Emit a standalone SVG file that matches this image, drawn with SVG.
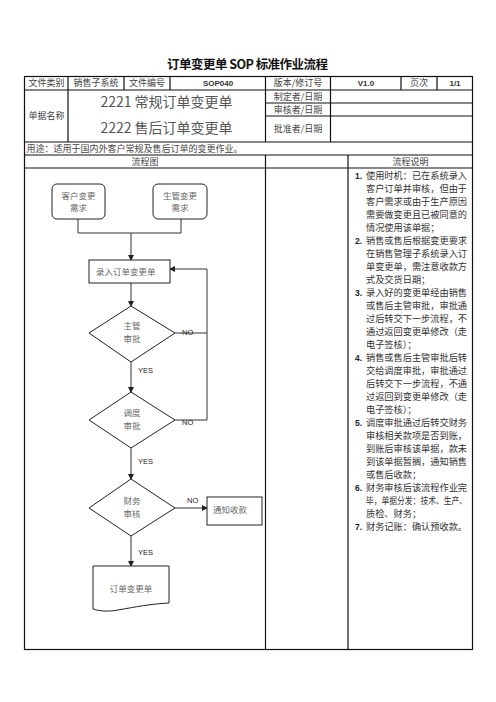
<svg xmlns="http://www.w3.org/2000/svg" width="496" height="702" viewBox="0 0 496 702">
<style>
.cj{font-family:"Noto Sans CJK SC","Noto Sans",sans-serif}
.t{font-size:9px;fill:#444;text-anchor:middle}
.lat{font-family:"Liberation Sans",Arial,sans-serif;font-size:8px;font-weight:bold;fill:#333;text-anchor:middle}
.big{font-size:14px;fill:#555;text-anchor:middle}
.fl{font-size:8.5px;fill:#666;text-anchor:middle}
.lb{font-family:"Liberation Sans",Arial,sans-serif;font-size:7.5px;fill:#222}
.li{font-size:9.2px;fill:#333}
.num{font-family:"Liberation Sans",Arial,sans-serif;font-size:8.5px;font-weight:bold;fill:#222}
.tb{fill:none;stroke:#111;stroke-width:1.2}
.nd{fill:#fff;stroke:#222;stroke-width:1}
.cn{fill:none;stroke:#333;stroke-width:1}
</style>
<defs>
<marker id="ah" markerUnits="userSpaceOnUse" markerWidth="6" markerHeight="6" refX="5" refY="3" orient="auto">
<path d="M0,0 L6,3 L0,6 Z" fill="#222"/>
</marker>
</defs>
<rect width="496" height="702" fill="#fff"/>
<text class="cj" x="247.5" y="68.5" font-size="12.5" fill="#111" text-anchor="middle" font-weight="bold" textLength="161">订单变更单 SOP 标准作业流程</text>

<g id="table">
<rect class="tb" x="24.5" y="76.5" width="448" height="573"/>
<path class="tb" d="M24.5 90H472.5M265.5 103H472.5M265.5 116H472.5M24.5 142H472.5M24.5 155H472.5M24.5 168H472.5"/>
<path class="tb" d="M68 76.5V142M124 76.5V90M170 76.5V90M265.5 76.5V142M330.5 76.5V142M401 76.5V90M437 76.5V90M265.5 155V649.5M348 155V649.5"/>
<text class="cj t" x="46.5" y="86.4">文件类别</text>
<text class="cj t" x="96" y="86.4">销售子系统</text>
<text class="cj t" x="147" y="86.4">文件编号</text>
<text class="lat" x="218" y="86.2">SOP040</text>
<text class="cj t" x="298" y="86.4">版本/修订号</text>
<text class="lat" x="366" y="86.2">V1.0</text>
<text class="cj t" x="419" y="86.4">页次</text>
<text class="lat" x="455" y="86.2">1/1</text>
<text class="cj t" x="46.5" y="119.4">单据名称</text>
<text class="cj big" x="166.5" y="107">2221 常规订单变更单</text>
<text class="cj big" x="166.5" y="133">2222 售后订单变更单</text>
<text class="cj t" x="298" y="99.9">制定者/日期</text>
<text class="cj t" x="298" y="112.9">审核者/日期</text>
<text class="cj t" x="298" y="132.4">批准者/日期</text>
<text class="cj t" x="26.5" y="151.9" style="text-anchor:start">用途：适用于国内外客户常规及售后订单的变更作业。</text>
<text class="cj t" x="145" y="164.9">流程图</text>
<text class="cj t" x="410.5" y="164.9">流程说明</text>
</g>

<g id="steps">
<text class="num" x="355" y="178.5">1.</text>
<text class="cj li" x="366" y="178.5">使用时机：已在系统录入</text>
<text class="cj li" x="366" y="191.5">客户订单并审核，但由于</text>
<text class="cj li" x="366" y="204.5">客户需求或由于生产原因</text>
<text class="cj li" x="366" y="217.5">需要做变更且已被同意的</text>
<text class="cj li" x="366" y="230.5">情况使用该单据；</text>
<text class="num" x="355" y="243.5">2.</text>
<text class="cj li" x="366" y="243.5">销售或售后根据变更要求</text>
<text class="cj li" x="366" y="256.5">在销售管理子系统录入订</text>
<text class="cj li" x="366" y="269.5">单变更单，需注意收款方</text>
<text class="cj li" x="366" y="282.5">式及交货日期；</text>
<text class="num" x="355" y="295.5">3.</text>
<text class="cj li" x="366" y="295.5">录入好的变更单经由销售</text>
<text class="cj li" x="366" y="308.5">或售后主管审批，审批通</text>
<text class="cj li" x="366" y="321.5">过后转交下一步流程，不</text>
<text class="cj li" x="366" y="334.5">通过返回变更单修改（走</text>
<text class="cj li" x="366" y="347.5">电子签核）；</text>
<text class="num" x="355" y="360.5">4.</text>
<text class="cj li" x="366" y="360.5">销售或售后主管审批后转</text>
<text class="cj li" x="366" y="373.5">交给调度审批，审批通过</text>
<text class="cj li" x="366" y="386.5">后转交下一步流程，不通</text>
<text class="cj li" x="366" y="399.5">过返回到变更单修改（走</text>
<text class="cj li" x="366" y="412.5">电子签核）；</text>
<text class="num" x="355" y="425.5">5.</text>
<text class="cj li" x="366" y="425.5">调度审批通过后转交财务</text>
<text class="cj li" x="366" y="438.5">审核相关款项是否到账，</text>
<text class="cj li" x="366" y="451.5">到账后审核该单据，款未</text>
<text class="cj li" x="366" y="464.5">到该单据暂搁，通知销售</text>
<text class="cj li" x="366" y="477.5">或售后收款；</text>
<text class="num" x="355" y="490.5">6.</text>
<text class="cj li" x="366" y="490.5">财务审核后该流程作业完</text>
<text class="cj li" x="366" y="503.5" textLength="101" lengthAdjust="spacingAndGlyphs">毕，单据分发：技术、生产、</text>
<text class="cj li" x="366" y="516.5">质检、财务；</text>
<text class="num" x="355" y="529.5">7.</text>
<text class="cj li" x="366" y="529.5">财务记账：确认预收款。</text>
</g>

<g id="connectors">
<path class="cn" d="M78 219V233H181V219"/>
<path class="cn" d="M131 233V260" marker-end="url(#ah)"/>
<path class="cn" d="M131 283V306" marker-end="url(#ah)"/>
<path class="cn" d="M131 362V392" marker-end="url(#ah)"/>
<path class="cn" d="M131 448V479" marker-end="url(#ah)"/>
<path class="cn" d="M131 536V566" marker-end="url(#ah)"/>
<path class="cn" d="M175 333H207"/>
<path class="cn" d="M175 420H207V269H170" marker-end="url(#ah)"/>
<path class="cn" d="M175 508H207" marker-end="url(#ah)"/>
<text class="lb" x="182" y="335">NO</text>
<text class="lb" x="182" y="424.5">NO</text>
<text class="lb" x="187" y="502.5">NO</text>
<text class="lb" x="138" y="373">YES</text>
<text class="lb" x="138" y="464">YES</text>
<text class="lb" x="138" y="555">YES</text>
</g>

<g id="n-customer">
<rect class="nd" x="52" y="184" width="53" height="35" rx="5"/>
<text class="cj fl" x="78.5" y="199">客户变更</text>
<text class="cj fl" x="78.5" y="211">需求</text>
</g>
<g id="n-production">
<rect class="nd" x="153" y="184" width="54" height="35" rx="5"/>
<text class="cj fl" x="180" y="199">生管变更</text>
<text class="cj fl" x="180" y="211">需求</text>
</g>
<g id="n-entry">
<rect class="nd" x="89" y="260" width="81" height="23"/>
<text class="cj fl" x="96" y="274.7" style="text-anchor:start">录入订单变更单</text>
</g>
<g id="n-manager">
<polygon class="nd" points="131,306 175,333 131,362 89,333"/>
<text class="cj fl" x="132" y="329">主管</text>
<text class="cj fl" x="132" y="342">审批</text>
</g>
<g id="n-dispatch">
<polygon class="nd" points="131,392 175,420 131,448 89,420"/>
<text class="cj fl" x="132" y="416">调度</text>
<text class="cj fl" x="132" y="429">审批</text>
</g>
<g id="n-finance">
<polygon class="nd" points="131,479 175,508 131,536 89,508"/>
<text class="cj fl" x="132" y="504">财务</text>
<text class="cj fl" x="132" y="517">审核</text>
</g>
<g id="n-notify">
<rect class="nd" x="207" y="497" width="55" height="28"/>
<text class="cj fl" x="213" y="513" style="text-anchor:start">通知收款</text>
</g>
<g id="n-doc">
<path class="nd" d="M93 566H169V603C150 604 135 607 118 610C108 612 99 611 93 609Z"/>
<text class="cj fl" x="131" y="592">订单变更单</text>
</g>
</svg>
